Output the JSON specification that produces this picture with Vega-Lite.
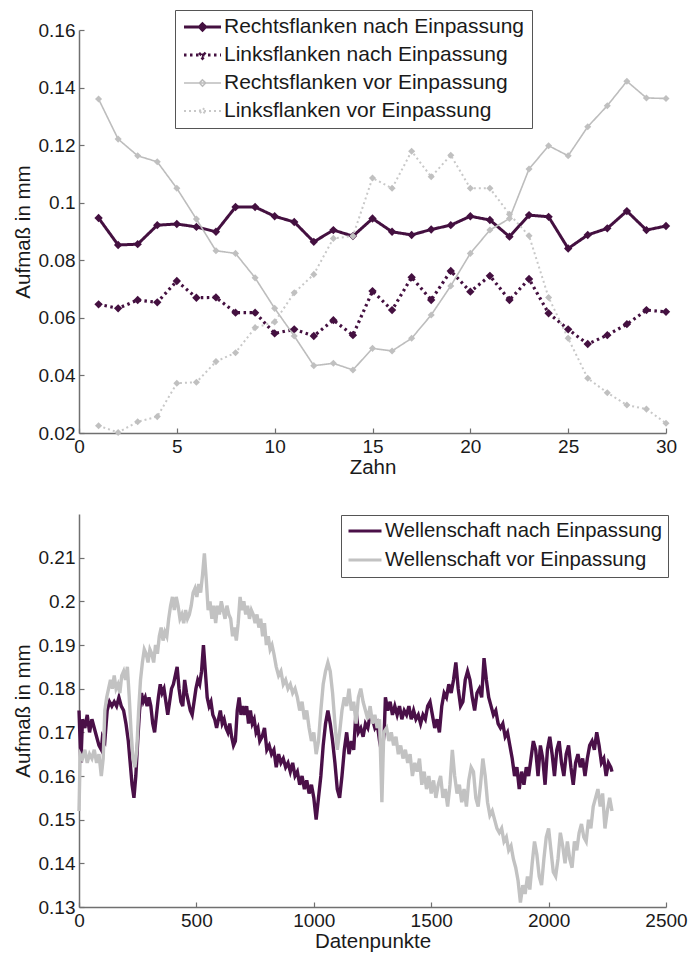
{
"$schema": "https://vega.github.io/schema/vega-lite/v6.json",
"padding": {"left": 13, "top": 9, "right": 5, "bottom": 2},
"spacing": 36,
"resolve": {"scale": {"color": "independent", "strokeDash": "independent", "strokeWidth": "independent", "fill": "independent"}, "legend": {"color": "independent"}},
"config": {
  "font": "Liberation Sans",
  "view": {"stroke": null},
  "axis": {"domainColor": "#707070", "tickColor": "#707070", "domainWidth": 1.5, "tickWidth": 1.2, "labelColor": "#1a1a1a", "titleColor": "#1a1a1a", "labelFontSize": 19, "titleFontSize": 20.5, "titleFontWeight": "normal", "grid": false, "tickSize": -5, "labelPadding": 9},
  "legend": {"orient": "none", "title": null, "strokeColor": "#555555", "fillColor": "white", "labelColor": "#1a1a1a", "labelOffset": 2, "clipHeight": 20, "labelLimit": 500}
},
"datasets": {
  "top": [
    {"zahn":1,"series":"Rechtsflanken nach Einpassung","value":0.0947},{"zahn":2,"series":"Rechtsflanken nach Einpassung","value":0.0853},{"zahn":3,"series":"Rechtsflanken nach Einpassung","value":0.0856},{"zahn":4,"series":"Rechtsflanken nach Einpassung","value":0.0922},{"zahn":5,"series":"Rechtsflanken nach Einpassung","value":0.0926},{"zahn":6,"series":"Rechtsflanken nach Einpassung","value":0.0916},{"zahn":7,"series":"Rechtsflanken nach Einpassung","value":0.0899},{"zahn":8,"series":"Rechtsflanken nach Einpassung","value":0.0985},{"zahn":9,"series":"Rechtsflanken nach Einpassung","value":0.0985},{"zahn":10,"series":"Rechtsflanken nach Einpassung","value":0.0953},{"zahn":11,"series":"Rechtsflanken nach Einpassung","value":0.0933},{"zahn":12,"series":"Rechtsflanken nach Einpassung","value":0.0864},{"zahn":13,"series":"Rechtsflanken nach Einpassung","value":0.0905},{"zahn":14,"series":"Rechtsflanken nach Einpassung","value":0.0884},{"zahn":15,"series":"Rechtsflanken nach Einpassung","value":0.0945},{"zahn":16,"series":"Rechtsflanken nach Einpassung","value":0.0899},{"zahn":17,"series":"Rechtsflanken nach Einpassung","value":0.0888},{"zahn":18,"series":"Rechtsflanken nach Einpassung","value":0.0907},{"zahn":19,"series":"Rechtsflanken nach Einpassung","value":0.0922},{"zahn":20,"series":"Rechtsflanken nach Einpassung","value":0.0953},{"zahn":21,"series":"Rechtsflanken nach Einpassung","value":0.094},{"zahn":22,"series":"Rechtsflanken nach Einpassung","value":0.0882},{"zahn":23,"series":"Rechtsflanken nach Einpassung","value":0.0957},{"zahn":24,"series":"Rechtsflanken nach Einpassung","value":0.0951},{"zahn":25,"series":"Rechtsflanken nach Einpassung","value":0.0841},{"zahn":26,"series":"Rechtsflanken nach Einpassung","value":0.0888},{"zahn":27,"series":"Rechtsflanken nach Einpassung","value":0.0911},{"zahn":28,"series":"Rechtsflanken nach Einpassung","value":0.0971},{"zahn":29,"series":"Rechtsflanken nach Einpassung","value":0.0905},{"zahn":30,"series":"Rechtsflanken nach Einpassung","value":0.0919},
    {"zahn":1,"series":"Linksflanken nach Einpassung","value":0.0647},{"zahn":2,"series":"Linksflanken nach Einpassung","value":0.0633},{"zahn":3,"series":"Linksflanken nach Einpassung","value":0.0662},{"zahn":4,"series":"Linksflanken nach Einpassung","value":0.0654},{"zahn":5,"series":"Linksflanken nach Einpassung","value":0.0728},{"zahn":6,"series":"Linksflanken nach Einpassung","value":0.067},{"zahn":7,"series":"Linksflanken nach Einpassung","value":0.0671},{"zahn":8,"series":"Linksflanken nach Einpassung","value":0.0618},{"zahn":9,"series":"Linksflanken nach Einpassung","value":0.0618},{"zahn":10,"series":"Linksflanken nach Einpassung","value":0.0546},{"zahn":11,"series":"Linksflanken nach Einpassung","value":0.056},{"zahn":12,"series":"Linksflanken nach Einpassung","value":0.0537},{"zahn":13,"series":"Linksflanken nach Einpassung","value":0.0592},{"zahn":14,"series":"Linksflanken nach Einpassung","value":0.054},{"zahn":15,"series":"Linksflanken nach Einpassung","value":0.0693},{"zahn":16,"series":"Linksflanken nach Einpassung","value":0.0627},{"zahn":17,"series":"Linksflanken nach Einpassung","value":0.0741},{"zahn":18,"series":"Linksflanken nach Einpassung","value":0.0662},{"zahn":19,"series":"Linksflanken nach Einpassung","value":0.0763},{"zahn":20,"series":"Linksflanken nach Einpassung","value":0.0691},{"zahn":21,"series":"Linksflanken nach Einpassung","value":0.0746},{"zahn":22,"series":"Linksflanken nach Einpassung","value":0.0662},{"zahn":23,"series":"Linksflanken nach Einpassung","value":0.0735},{"zahn":24,"series":"Linksflanken nach Einpassung","value":0.0616},{"zahn":25,"series":"Linksflanken nach Einpassung","value":0.056},{"zahn":26,"series":"Linksflanken nach Einpassung","value":0.0509},{"zahn":27,"series":"Linksflanken nach Einpassung","value":0.054},{"zahn":28,"series":"Linksflanken nach Einpassung","value":0.0578},{"zahn":29,"series":"Linksflanken nach Einpassung","value":0.0627},{"zahn":30,"series":"Linksflanken nach Einpassung","value":0.0621},
    {"zahn":1,"series":"Rechtsflanken vor Einpassung","value":0.136},{"zahn":2,"series":"Rechtsflanken vor Einpassung","value":0.1221},{"zahn":3,"series":"Rechtsflanken vor Einpassung","value":0.1163},{"zahn":4,"series":"Rechtsflanken vor Einpassung","value":0.1142},{"zahn":5,"series":"Rechtsflanken vor Einpassung","value":0.105},{"zahn":6,"series":"Rechtsflanken vor Einpassung","value":0.0943},{"zahn":7,"series":"Rechtsflanken vor Einpassung","value":0.0833},{"zahn":8,"series":"Rechtsflanken vor Einpassung","value":0.0824},{"zahn":9,"series":"Rechtsflanken vor Einpassung","value":0.0739},{"zahn":10,"series":"Rechtsflanken vor Einpassung","value":0.0633},{"zahn":11,"series":"Rechtsflanken vor Einpassung","value":0.0537},{"zahn":12,"series":"Rechtsflanken vor Einpassung","value":0.0434},{"zahn":13,"series":"Rechtsflanken vor Einpassung","value":0.0442},{"zahn":14,"series":"Rechtsflanken vor Einpassung","value":0.0419},{"zahn":15,"series":"Rechtsflanken vor Einpassung","value":0.0494},{"zahn":16,"series":"Rechtsflanken vor Einpassung","value":0.0485},{"zahn":17,"series":"Rechtsflanken vor Einpassung","value":0.0529},{"zahn":18,"series":"Rechtsflanken vor Einpassung","value":0.061},{"zahn":19,"series":"Rechtsflanken vor Einpassung","value":0.0711},{"zahn":20,"series":"Rechtsflanken vor Einpassung","value":0.0824},{"zahn":21,"series":"Rechtsflanken vor Einpassung","value":0.0905},{"zahn":22,"series":"Rechtsflanken vor Einpassung","value":0.0945},{"zahn":23,"series":"Rechtsflanken vor Einpassung","value":0.1117},{"zahn":24,"series":"Rechtsflanken vor Einpassung","value":0.1198},{"zahn":25,"series":"Rechtsflanken vor Einpassung","value":0.1163},{"zahn":26,"series":"Rechtsflanken vor Einpassung","value":0.1264},{"zahn":27,"series":"Rechtsflanken vor Einpassung","value":0.1337},{"zahn":28,"series":"Rechtsflanken vor Einpassung","value":0.1422},{"zahn":29,"series":"Rechtsflanken vor Einpassung","value":0.1364},{"zahn":30,"series":"Rechtsflanken vor Einpassung","value":0.1362},
    {"zahn":1,"series":"Linksflanken vor Einpassung","value":0.0225},{"zahn":2,"series":"Linksflanken vor Einpassung","value":0.0202},{"zahn":3,"series":"Linksflanken vor Einpassung","value":0.0239},{"zahn":4,"series":"Linksflanken vor Einpassung","value":0.0257},{"zahn":5,"series":"Linksflanken vor Einpassung","value":0.0373},{"zahn":6,"series":"Linksflanken vor Einpassung","value":0.0376},{"zahn":7,"series":"Linksflanken vor Einpassung","value":0.0448},{"zahn":8,"series":"Linksflanken vor Einpassung","value":0.0479},{"zahn":9,"series":"Linksflanken vor Einpassung","value":0.0566},{"zahn":10,"series":"Linksflanken vor Einpassung","value":0.0586},{"zahn":11,"series":"Linksflanken vor Einpassung","value":0.0687},{"zahn":12,"series":"Linksflanken vor Einpassung","value":0.0751},{"zahn":13,"series":"Linksflanken vor Einpassung","value":0.0876},{"zahn":14,"series":"Linksflanken vor Einpassung","value":0.0884},{"zahn":15,"series":"Linksflanken vor Einpassung","value":0.1086},{"zahn":16,"series":"Linksflanken vor Einpassung","value":0.105},{"zahn":17,"series":"Linksflanken vor Einpassung","value":0.1179},{"zahn":18,"series":"Linksflanken vor Einpassung","value":0.109},{"zahn":19,"series":"Linksflanken vor Einpassung","value":0.1165},{"zahn":20,"series":"Linksflanken vor Einpassung","value":0.105},{"zahn":21,"series":"Linksflanken vor Einpassung","value":0.105},{"zahn":22,"series":"Linksflanken vor Einpassung","value":0.096},{"zahn":23,"series":"Linksflanken vor Einpassung","value":0.0885},{"zahn":24,"series":"Linksflanken vor Einpassung","value":0.0671},{"zahn":25,"series":"Linksflanken vor Einpassung","value":0.0529},{"zahn":26,"series":"Linksflanken vor Einpassung","value":0.039},{"zahn":27,"series":"Linksflanken vor Einpassung","value":0.034},{"zahn":28,"series":"Linksflanken vor Einpassung","value":0.0297},{"zahn":29,"series":"Linksflanken vor Einpassung","value":0.0283},{"zahn":30,"series":"Linksflanken vor Einpassung","value":0.0234}
  ],
  "bottom": [
    {"dp":0,"series":"Wellenschaft nach Einpassung","value":0.175},{"dp":8,"series":"Wellenschaft nach Einpassung","value":0.163},{"dp":15,"series":"Wellenschaft nach Einpassung","value":0.173},{"dp":25,"series":"Wellenschaft nach Einpassung","value":0.171},{"dp":35,"series":"Wellenschaft nach Einpassung","value":0.174},{"dp":45,"series":"Wellenschaft nach Einpassung","value":0.17},{"dp":55,"series":"Wellenschaft nach Einpassung","value":0.173},{"dp":65,"series":"Wellenschaft nach Einpassung","value":0.171},{"dp":75,"series":"Wellenschaft nach Einpassung","value":0.169},{"dp":85,"series":"Wellenschaft nach Einpassung","value":0.167},{"dp":95,"series":"Wellenschaft nach Einpassung","value":0.166},{"dp":100,"series":"Wellenschaft nach Einpassung","value":0.169},{"dp":110,"series":"Wellenschaft nach Einpassung","value":0.168},{"dp":120,"series":"Wellenschaft nach Einpassung","value":0.175},{"dp":130,"series":"Wellenschaft nach Einpassung","value":0.177},{"dp":140,"series":"Wellenschaft nach Einpassung","value":0.176},{"dp":150,"series":"Wellenschaft nach Einpassung","value":0.177},{"dp":160,"series":"Wellenschaft nach Einpassung","value":0.176},{"dp":170,"series":"Wellenschaft nach Einpassung","value":0.178},{"dp":180,"series":"Wellenschaft nach Einpassung","value":0.176},{"dp":190,"series":"Wellenschaft nach Einpassung","value":0.175},{"dp":200,"series":"Wellenschaft nach Einpassung","value":0.172},{"dp":210,"series":"Wellenschaft nach Einpassung","value":0.168},{"dp":218,"series":"Wellenschaft nach Einpassung","value":0.163},{"dp":226,"series":"Wellenschaft nach Einpassung","value":0.158},{"dp":234,"series":"Wellenschaft nach Einpassung","value":0.155},{"dp":242,"series":"Wellenschaft nach Einpassung","value":0.16},{"dp":250,"series":"Wellenschaft nach Einpassung","value":0.168},{"dp":258,"series":"Wellenschaft nach Einpassung","value":0.175},{"dp":266,"series":"Wellenschaft nach Einpassung","value":0.179},{"dp":274,"series":"Wellenschaft nach Einpassung","value":0.177},{"dp":282,"series":"Wellenschaft nach Einpassung","value":0.178},{"dp":290,"series":"Wellenschaft nach Einpassung","value":0.176},{"dp":298,"series":"Wellenschaft nach Einpassung","value":0.178},{"dp":306,"series":"Wellenschaft nach Einpassung","value":0.176},{"dp":314,"series":"Wellenschaft nach Einpassung","value":0.172},{"dp":322,"series":"Wellenschaft nach Einpassung","value":0.17},{"dp":330,"series":"Wellenschaft nach Einpassung","value":0.174},{"dp":338,"series":"Wellenschaft nach Einpassung","value":0.178},{"dp":346,"series":"Wellenschaft nach Einpassung","value":0.181},{"dp":354,"series":"Wellenschaft nach Einpassung","value":0.179},{"dp":362,"series":"Wellenschaft nach Einpassung","value":0.18},{"dp":370,"series":"Wellenschaft nach Einpassung","value":0.177},{"dp":378,"series":"Wellenschaft nach Einpassung","value":0.174},{"dp":386,"series":"Wellenschaft nach Einpassung","value":0.177},{"dp":394,"series":"Wellenschaft nach Einpassung","value":0.18},{"dp":402,"series":"Wellenschaft nach Einpassung","value":0.181},{"dp":410,"series":"Wellenschaft nach Einpassung","value":0.183},{"dp":418,"series":"Wellenschaft nach Einpassung","value":0.185},{"dp":426,"series":"Wellenschaft nach Einpassung","value":0.18},{"dp":434,"series":"Wellenschaft nach Einpassung","value":0.177},{"dp":442,"series":"Wellenschaft nach Einpassung","value":0.176},{"dp":450,"series":"Wellenschaft nach Einpassung","value":0.182},{"dp":458,"series":"Wellenschaft nach Einpassung","value":0.179},{"dp":466,"series":"Wellenschaft nach Einpassung","value":0.177},{"dp":474,"series":"Wellenschaft nach Einpassung","value":0.175},{"dp":482,"series":"Wellenschaft nach Einpassung","value":0.174},{"dp":490,"series":"Wellenschaft nach Einpassung","value":0.177},{"dp":498,"series":"Wellenschaft nach Einpassung","value":0.18},{"dp":506,"series":"Wellenschaft nach Einpassung","value":0.182},{"dp":514,"series":"Wellenschaft nach Einpassung","value":0.181},{"dp":522,"series":"Wellenschaft nach Einpassung","value":0.184},{"dp":530,"series":"Wellenschaft nach Einpassung","value":0.19},{"dp":538,"series":"Wellenschaft nach Einpassung","value":0.184},{"dp":546,"series":"Wellenschaft nach Einpassung","value":0.178},{"dp":554,"series":"Wellenschaft nach Einpassung","value":0.176},{"dp":562,"series":"Wellenschaft nach Einpassung","value":0.177},{"dp":570,"series":"Wellenschaft nach Einpassung","value":0.174},{"dp":578,"series":"Wellenschaft nach Einpassung","value":0.173},{"dp":586,"series":"Wellenschaft nach Einpassung","value":0.171},{"dp":594,"series":"Wellenschaft nach Einpassung","value":0.173},{"dp":602,"series":"Wellenschaft nach Einpassung","value":0.175},{"dp":610,"series":"Wellenschaft nach Einpassung","value":0.172},{"dp":618,"series":"Wellenschaft nach Einpassung","value":0.173},{"dp":626,"series":"Wellenschaft nach Einpassung","value":0.171},{"dp":634,"series":"Wellenschaft nach Einpassung","value":0.17},{"dp":642,"series":"Wellenschaft nach Einpassung","value":0.172},{"dp":650,"series":"Wellenschaft nach Einpassung","value":0.169},{"dp":658,"series":"Wellenschaft nach Einpassung","value":0.167},{"dp":666,"series":"Wellenschaft nach Einpassung","value":0.168},{"dp":674,"series":"Wellenschaft nach Einpassung","value":0.175},{"dp":682,"series":"Wellenschaft nach Einpassung","value":0.178},{"dp":690,"series":"Wellenschaft nach Einpassung","value":0.174},{"dp":698,"series":"Wellenschaft nach Einpassung","value":0.176},{"dp":706,"series":"Wellenschaft nach Einpassung","value":0.174},{"dp":714,"series":"Wellenschaft nach Einpassung","value":0.176},{"dp":722,"series":"Wellenschaft nach Einpassung","value":0.172},{"dp":730,"series":"Wellenschaft nach Einpassung","value":0.175},{"dp":738,"series":"Wellenschaft nach Einpassung","value":0.172},{"dp":746,"series":"Wellenschaft nach Einpassung","value":0.173},{"dp":754,"series":"Wellenschaft nach Einpassung","value":0.17},{"dp":762,"series":"Wellenschaft nach Einpassung","value":0.171},{"dp":770,"series":"Wellenschaft nach Einpassung","value":0.168},{"dp":780,"series":"Wellenschaft nach Einpassung","value":0.169},{"dp":790,"series":"Wellenschaft nach Einpassung","value":0.171},{"dp":800,"series":"Wellenschaft nach Einpassung","value":0.166},{"dp":810,"series":"Wellenschaft nach Einpassung","value":0.167},{"dp":820,"series":"Wellenschaft nach Einpassung","value":0.165},{"dp":830,"series":"Wellenschaft nach Einpassung","value":0.166},{"dp":840,"series":"Wellenschaft nach Einpassung","value":0.162},{"dp":850,"series":"Wellenschaft nach Einpassung","value":0.165},{"dp":860,"series":"Wellenschaft nach Einpassung","value":0.163},{"dp":870,"series":"Wellenschaft nach Einpassung","value":0.164},{"dp":880,"series":"Wellenschaft nach Einpassung","value":0.162},{"dp":890,"series":"Wellenschaft nach Einpassung","value":0.163},{"dp":900,"series":"Wellenschaft nach Einpassung","value":0.161},{"dp":910,"series":"Wellenschaft nach Einpassung","value":0.163},{"dp":920,"series":"Wellenschaft nach Einpassung","value":0.16},{"dp":930,"series":"Wellenschaft nach Einpassung","value":0.161},{"dp":940,"series":"Wellenschaft nach Einpassung","value":0.158},{"dp":950,"series":"Wellenschaft nach Einpassung","value":0.16},{"dp":960,"series":"Wellenschaft nach Einpassung","value":0.157},{"dp":970,"series":"Wellenschaft nach Einpassung","value":0.159},{"dp":980,"series":"Wellenschaft nach Einpassung","value":0.156},{"dp":990,"series":"Wellenschaft nach Einpassung","value":0.158},{"dp":1000,"series":"Wellenschaft nach Einpassung","value":0.155},{"dp":1010,"series":"Wellenschaft nach Einpassung","value":0.15},{"dp":1020,"series":"Wellenschaft nach Einpassung","value":0.155},{"dp":1030,"series":"Wellenschaft nach Einpassung","value":0.16},{"dp":1040,"series":"Wellenschaft nach Einpassung","value":0.167},{"dp":1050,"series":"Wellenschaft nach Einpassung","value":0.172},{"dp":1060,"series":"Wellenschaft nach Einpassung","value":0.175},{"dp":1070,"series":"Wellenschaft nach Einpassung","value":0.172},{"dp":1080,"series":"Wellenschaft nach Einpassung","value":0.168},{"dp":1090,"series":"Wellenschaft nach Einpassung","value":0.163},{"dp":1100,"series":"Wellenschaft nach Einpassung","value":0.157},{"dp":1110,"series":"Wellenschaft nach Einpassung","value":0.155},{"dp":1120,"series":"Wellenschaft nach Einpassung","value":0.16},{"dp":1130,"series":"Wellenschaft nach Einpassung","value":0.166},{"dp":1140,"series":"Wellenschaft nach Einpassung","value":0.17},{"dp":1150,"series":"Wellenschaft nach Einpassung","value":0.165},{"dp":1160,"series":"Wellenschaft nach Einpassung","value":0.168},{"dp":1170,"series":"Wellenschaft nach Einpassung","value":0.166},{"dp":1180,"series":"Wellenschaft nach Einpassung","value":0.175},{"dp":1190,"series":"Wellenschaft nach Einpassung","value":0.17},{"dp":1200,"series":"Wellenschaft nach Einpassung","value":0.171},{"dp":1210,"series":"Wellenschaft nach Einpassung","value":0.169},{"dp":1220,"series":"Wellenschaft nach Einpassung","value":0.172},{"dp":1230,"series":"Wellenschaft nach Einpassung","value":0.171},{"dp":1240,"series":"Wellenschaft nach Einpassung","value":0.174},{"dp":1250,"series":"Wellenschaft nach Einpassung","value":0.173},{"dp":1260,"series":"Wellenschaft nach Einpassung","value":0.171},{"dp":1270,"series":"Wellenschaft nach Einpassung","value":0.172},{"dp":1280,"series":"Wellenschaft nach Einpassung","value":0.168},{"dp":1290,"series":"Wellenschaft nach Einpassung","value":0.165},{"dp":1300,"series":"Wellenschaft nach Einpassung","value":0.17},{"dp":1305,"series":"Wellenschaft nach Einpassung","value":0.178},{"dp":1315,"series":"Wellenschaft nach Einpassung","value":0.175},{"dp":1325,"series":"Wellenschaft nach Einpassung","value":0.177},{"dp":1335,"series":"Wellenschaft nach Einpassung","value":0.174},{"dp":1345,"series":"Wellenschaft nach Einpassung","value":0.176},{"dp":1355,"series":"Wellenschaft nach Einpassung","value":0.174},{"dp":1365,"series":"Wellenschaft nach Einpassung","value":0.176},{"dp":1375,"series":"Wellenschaft nach Einpassung","value":0.173},{"dp":1385,"series":"Wellenschaft nach Einpassung","value":0.175},{"dp":1395,"series":"Wellenschaft nach Einpassung","value":0.174},{"dp":1405,"series":"Wellenschaft nach Einpassung","value":0.176},{"dp":1415,"series":"Wellenschaft nach Einpassung","value":0.173},{"dp":1425,"series":"Wellenschaft nach Einpassung","value":0.175},{"dp":1435,"series":"Wellenschaft nach Einpassung","value":0.173},{"dp":1445,"series":"Wellenschaft nach Einpassung","value":0.174},{"dp":1455,"series":"Wellenschaft nach Einpassung","value":0.172},{"dp":1465,"series":"Wellenschaft nach Einpassung","value":0.174},{"dp":1475,"series":"Wellenschaft nach Einpassung","value":0.173},{"dp":1485,"series":"Wellenschaft nach Einpassung","value":0.176},{"dp":1495,"series":"Wellenschaft nach Einpassung","value":0.177},{"dp":1505,"series":"Wellenschaft nach Einpassung","value":0.174},{"dp":1515,"series":"Wellenschaft nach Einpassung","value":0.171},{"dp":1525,"series":"Wellenschaft nach Einpassung","value":0.173},{"dp":1535,"series":"Wellenschaft nach Einpassung","value":0.17},{"dp":1545,"series":"Wellenschaft nach Einpassung","value":0.176},{"dp":1555,"series":"Wellenschaft nach Einpassung","value":0.179},{"dp":1565,"series":"Wellenschaft nach Einpassung","value":0.178},{"dp":1575,"series":"Wellenschaft nach Einpassung","value":0.181},{"dp":1585,"series":"Wellenschaft nach Einpassung","value":0.179},{"dp":1595,"series":"Wellenschaft nach Einpassung","value":0.182},{"dp":1605,"series":"Wellenschaft nach Einpassung","value":0.186},{"dp":1615,"series":"Wellenschaft nach Einpassung","value":0.18},{"dp":1625,"series":"Wellenschaft nach Einpassung","value":0.176},{"dp":1635,"series":"Wellenschaft nach Einpassung","value":0.177},{"dp":1645,"series":"Wellenschaft nach Einpassung","value":0.182},{"dp":1655,"series":"Wellenschaft nach Einpassung","value":0.184},{"dp":1665,"series":"Wellenschaft nach Einpassung","value":0.182},{"dp":1675,"series":"Wellenschaft nach Einpassung","value":0.178},{"dp":1685,"series":"Wellenschaft nach Einpassung","value":0.175},{"dp":1695,"series":"Wellenschaft nach Einpassung","value":0.179},{"dp":1705,"series":"Wellenschaft nach Einpassung","value":0.18},{"dp":1715,"series":"Wellenschaft nach Einpassung","value":0.178},{"dp":1725,"series":"Wellenschaft nach Einpassung","value":0.187},{"dp":1735,"series":"Wellenschaft nach Einpassung","value":0.182},{"dp":1745,"series":"Wellenschaft nach Einpassung","value":0.178},{"dp":1755,"series":"Wellenschaft nach Einpassung","value":0.176},{"dp":1765,"series":"Wellenschaft nach Einpassung","value":0.174},{"dp":1775,"series":"Wellenschaft nach Einpassung","value":0.175},{"dp":1785,"series":"Wellenschaft nach Einpassung","value":0.172},{"dp":1795,"series":"Wellenschaft nach Einpassung","value":0.171},{"dp":1805,"series":"Wellenschaft nach Einpassung","value":0.172},{"dp":1815,"series":"Wellenschaft nach Einpassung","value":0.169},{"dp":1825,"series":"Wellenschaft nach Einpassung","value":0.17},{"dp":1835,"series":"Wellenschaft nach Einpassung","value":0.167},{"dp":1845,"series":"Wellenschaft nach Einpassung","value":0.164},{"dp":1855,"series":"Wellenschaft nach Einpassung","value":0.16},{"dp":1865,"series":"Wellenschaft nach Einpassung","value":0.162},{"dp":1875,"series":"Wellenschaft nach Einpassung","value":0.157},{"dp":1885,"series":"Wellenschaft nach Einpassung","value":0.161},{"dp":1895,"series":"Wellenschaft nach Einpassung","value":0.158},{"dp":1905,"series":"Wellenschaft nach Einpassung","value":0.162},{"dp":1915,"series":"Wellenschaft nach Einpassung","value":0.16},{"dp":1925,"series":"Wellenschaft nach Einpassung","value":0.164},{"dp":1935,"series":"Wellenschaft nach Einpassung","value":0.168},{"dp":1945,"series":"Wellenschaft nach Einpassung","value":0.166},{"dp":1955,"series":"Wellenschaft nach Einpassung","value":0.16},{"dp":1965,"series":"Wellenschaft nach Einpassung","value":0.167},{"dp":1975,"series":"Wellenschaft nach Einpassung","value":0.164},{"dp":1985,"series":"Wellenschaft nach Einpassung","value":0.158},{"dp":1995,"series":"Wellenschaft nach Einpassung","value":0.166},{"dp":2005,"series":"Wellenschaft nach Einpassung","value":0.169},{"dp":2015,"series":"Wellenschaft nach Einpassung","value":0.165},{"dp":2025,"series":"Wellenschaft nach Einpassung","value":0.16},{"dp":2035,"series":"Wellenschaft nach Einpassung","value":0.166},{"dp":2045,"series":"Wellenschaft nach Einpassung","value":0.168},{"dp":2055,"series":"Wellenschaft nach Einpassung","value":0.163},{"dp":2065,"series":"Wellenschaft nach Einpassung","value":0.16},{"dp":2075,"series":"Wellenschaft nach Einpassung","value":0.165},{"dp":2085,"series":"Wellenschaft nach Einpassung","value":0.167},{"dp":2095,"series":"Wellenschaft nach Einpassung","value":0.162},{"dp":2105,"series":"Wellenschaft nach Einpassung","value":0.158},{"dp":2115,"series":"Wellenschaft nach Einpassung","value":0.163},{"dp":2125,"series":"Wellenschaft nach Einpassung","value":0.165},{"dp":2135,"series":"Wellenschaft nach Einpassung","value":0.162},{"dp":2145,"series":"Wellenschaft nach Einpassung","value":0.164},{"dp":2155,"series":"Wellenschaft nach Einpassung","value":0.16},{"dp":2165,"series":"Wellenschaft nach Einpassung","value":0.164},{"dp":2175,"series":"Wellenschaft nach Einpassung","value":0.167},{"dp":2185,"series":"Wellenschaft nach Einpassung","value":0.168},{"dp":2195,"series":"Wellenschaft nach Einpassung","value":0.166},{"dp":2205,"series":"Wellenschaft nach Einpassung","value":0.17},{"dp":2215,"series":"Wellenschaft nach Einpassung","value":0.167},{"dp":2225,"series":"Wellenschaft nach Einpassung","value":0.163},{"dp":2235,"series":"Wellenschaft nach Einpassung","value":0.164},{"dp":2245,"series":"Wellenschaft nach Einpassung","value":0.16},{"dp":2255,"series":"Wellenschaft nach Einpassung","value":0.163},{"dp":2265,"series":"Wellenschaft nach Einpassung","value":0.162},{"dp":2270,"series":"Wellenschaft nach Einpassung","value":0.161},
    {"dp":0,"series":"Wellenschaft vor Einpassung","value":0.152},{"dp":5,"series":"Wellenschaft vor Einpassung","value":0.165},{"dp":15,"series":"Wellenschaft vor Einpassung","value":0.164},{"dp":25,"series":"Wellenschaft vor Einpassung","value":0.166},{"dp":35,"series":"Wellenschaft vor Einpassung","value":0.163},{"dp":45,"series":"Wellenschaft vor Einpassung","value":0.165},{"dp":55,"series":"Wellenschaft vor Einpassung","value":0.164},{"dp":65,"series":"Wellenschaft vor Einpassung","value":0.166},{"dp":75,"series":"Wellenschaft vor Einpassung","value":0.163},{"dp":85,"series":"Wellenschaft vor Einpassung","value":0.165},{"dp":95,"series":"Wellenschaft vor Einpassung","value":0.16},{"dp":103,"series":"Wellenschaft vor Einpassung","value":0.164},{"dp":110,"series":"Wellenschaft vor Einpassung","value":0.175},{"dp":118,"series":"Wellenschaft vor Einpassung","value":0.178},{"dp":126,"series":"Wellenschaft vor Einpassung","value":0.18},{"dp":134,"series":"Wellenschaft vor Einpassung","value":0.182},{"dp":142,"series":"Wellenschaft vor Einpassung","value":0.18},{"dp":150,"series":"Wellenschaft vor Einpassung","value":0.183},{"dp":158,"series":"Wellenschaft vor Einpassung","value":0.18},{"dp":166,"series":"Wellenschaft vor Einpassung","value":0.181},{"dp":174,"series":"Wellenschaft vor Einpassung","value":0.179},{"dp":182,"series":"Wellenschaft vor Einpassung","value":0.183},{"dp":190,"series":"Wellenschaft vor Einpassung","value":0.184},{"dp":198,"series":"Wellenschaft vor Einpassung","value":0.182},{"dp":206,"series":"Wellenschaft vor Einpassung","value":0.185},{"dp":214,"series":"Wellenschaft vor Einpassung","value":0.178},{"dp":222,"series":"Wellenschaft vor Einpassung","value":0.17},{"dp":230,"series":"Wellenschaft vor Einpassung","value":0.164},{"dp":238,"series":"Wellenschaft vor Einpassung","value":0.162},{"dp":246,"series":"Wellenschaft vor Einpassung","value":0.166},{"dp":254,"series":"Wellenschaft vor Einpassung","value":0.175},{"dp":262,"series":"Wellenschaft vor Einpassung","value":0.182},{"dp":270,"series":"Wellenschaft vor Einpassung","value":0.186},{"dp":278,"series":"Wellenschaft vor Einpassung","value":0.189},{"dp":286,"series":"Wellenschaft vor Einpassung","value":0.188},{"dp":294,"series":"Wellenschaft vor Einpassung","value":0.186},{"dp":302,"series":"Wellenschaft vor Einpassung","value":0.189},{"dp":310,"series":"Wellenschaft vor Einpassung","value":0.188},{"dp":318,"series":"Wellenschaft vor Einpassung","value":0.186},{"dp":326,"series":"Wellenschaft vor Einpassung","value":0.19},{"dp":334,"series":"Wellenschaft vor Einpassung","value":0.188},{"dp":342,"series":"Wellenschaft vor Einpassung","value":0.192},{"dp":350,"series":"Wellenschaft vor Einpassung","value":0.194},{"dp":358,"series":"Wellenschaft vor Einpassung","value":0.191},{"dp":366,"series":"Wellenschaft vor Einpassung","value":0.193},{"dp":374,"series":"Wellenschaft vor Einpassung","value":0.192},{"dp":382,"series":"Wellenschaft vor Einpassung","value":0.196},{"dp":390,"series":"Wellenschaft vor Einpassung","value":0.199},{"dp":398,"series":"Wellenschaft vor Einpassung","value":0.201},{"dp":406,"series":"Wellenschaft vor Einpassung","value":0.198},{"dp":414,"series":"Wellenschaft vor Einpassung","value":0.201},{"dp":422,"series":"Wellenschaft vor Einpassung","value":0.199},{"dp":430,"series":"Wellenschaft vor Einpassung","value":0.196},{"dp":438,"series":"Wellenschaft vor Einpassung","value":0.197},{"dp":446,"series":"Wellenschaft vor Einpassung","value":0.195},{"dp":454,"series":"Wellenschaft vor Einpassung","value":0.198},{"dp":462,"series":"Wellenschaft vor Einpassung","value":0.196},{"dp":470,"series":"Wellenschaft vor Einpassung","value":0.197},{"dp":478,"series":"Wellenschaft vor Einpassung","value":0.199},{"dp":486,"series":"Wellenschaft vor Einpassung","value":0.202},{"dp":494,"series":"Wellenschaft vor Einpassung","value":0.203},{"dp":502,"series":"Wellenschaft vor Einpassung","value":0.201},{"dp":510,"series":"Wellenschaft vor Einpassung","value":0.204},{"dp":518,"series":"Wellenschaft vor Einpassung","value":0.202},{"dp":526,"series":"Wellenschaft vor Einpassung","value":0.206},{"dp":534,"series":"Wellenschaft vor Einpassung","value":0.211},{"dp":542,"series":"Wellenschaft vor Einpassung","value":0.205},{"dp":550,"series":"Wellenschaft vor Einpassung","value":0.198},{"dp":558,"series":"Wellenschaft vor Einpassung","value":0.2},{"dp":566,"series":"Wellenschaft vor Einpassung","value":0.196},{"dp":574,"series":"Wellenschaft vor Einpassung","value":0.199},{"dp":582,"series":"Wellenschaft vor Einpassung","value":0.195},{"dp":590,"series":"Wellenschaft vor Einpassung","value":0.199},{"dp":598,"series":"Wellenschaft vor Einpassung","value":0.197},{"dp":606,"series":"Wellenschaft vor Einpassung","value":0.2},{"dp":614,"series":"Wellenschaft vor Einpassung","value":0.198},{"dp":622,"series":"Wellenschaft vor Einpassung","value":0.196},{"dp":630,"series":"Wellenschaft vor Einpassung","value":0.199},{"dp":638,"series":"Wellenschaft vor Einpassung","value":0.197},{"dp":646,"series":"Wellenschaft vor Einpassung","value":0.196},{"dp":654,"series":"Wellenschaft vor Einpassung","value":0.192},{"dp":662,"series":"Wellenschaft vor Einpassung","value":0.194},{"dp":670,"series":"Wellenschaft vor Einpassung","value":0.191},{"dp":678,"series":"Wellenschaft vor Einpassung","value":0.195},{"dp":686,"series":"Wellenschaft vor Einpassung","value":0.201},{"dp":694,"series":"Wellenschaft vor Einpassung","value":0.198},{"dp":702,"series":"Wellenschaft vor Einpassung","value":0.2},{"dp":710,"series":"Wellenschaft vor Einpassung","value":0.197},{"dp":718,"series":"Wellenschaft vor Einpassung","value":0.199},{"dp":726,"series":"Wellenschaft vor Einpassung","value":0.196},{"dp":734,"series":"Wellenschaft vor Einpassung","value":0.198},{"dp":742,"series":"Wellenschaft vor Einpassung","value":0.197},{"dp":750,"series":"Wellenschaft vor Einpassung","value":0.195},{"dp":758,"series":"Wellenschaft vor Einpassung","value":0.197},{"dp":766,"series":"Wellenschaft vor Einpassung","value":0.194},{"dp":774,"series":"Wellenschaft vor Einpassung","value":0.196},{"dp":782,"series":"Wellenschaft vor Einpassung","value":0.192},{"dp":790,"series":"Wellenschaft vor Einpassung","value":0.195},{"dp":798,"series":"Wellenschaft vor Einpassung","value":0.19},{"dp":806,"series":"Wellenschaft vor Einpassung","value":0.192},{"dp":814,"series":"Wellenschaft vor Einpassung","value":0.189},{"dp":822,"series":"Wellenschaft vor Einpassung","value":0.19},{"dp":830,"series":"Wellenschaft vor Einpassung","value":0.188},{"dp":840,"series":"Wellenschaft vor Einpassung","value":0.185},{"dp":850,"series":"Wellenschaft vor Einpassung","value":0.183},{"dp":860,"series":"Wellenschaft vor Einpassung","value":0.184},{"dp":870,"series":"Wellenschaft vor Einpassung","value":0.181},{"dp":880,"series":"Wellenschaft vor Einpassung","value":0.182},{"dp":890,"series":"Wellenschaft vor Einpassung","value":0.18},{"dp":900,"series":"Wellenschaft vor Einpassung","value":0.181},{"dp":910,"series":"Wellenschaft vor Einpassung","value":0.179},{"dp":920,"series":"Wellenschaft vor Einpassung","value":0.18},{"dp":930,"series":"Wellenschaft vor Einpassung","value":0.178},{"dp":940,"series":"Wellenschaft vor Einpassung","value":0.175},{"dp":950,"series":"Wellenschaft vor Einpassung","value":0.177},{"dp":960,"series":"Wellenschaft vor Einpassung","value":0.173},{"dp":970,"series":"Wellenschaft vor Einpassung","value":0.175},{"dp":980,"series":"Wellenschaft vor Einpassung","value":0.171},{"dp":990,"series":"Wellenschaft vor Einpassung","value":0.168},{"dp":1000,"series":"Wellenschaft vor Einpassung","value":0.17},{"dp":1010,"series":"Wellenschaft vor Einpassung","value":0.165},{"dp":1020,"series":"Wellenschaft vor Einpassung","value":0.168},{"dp":1030,"series":"Wellenschaft vor Einpassung","value":0.175},{"dp":1040,"series":"Wellenschaft vor Einpassung","value":0.181},{"dp":1050,"series":"Wellenschaft vor Einpassung","value":0.184},{"dp":1060,"series":"Wellenschaft vor Einpassung","value":0.186},{"dp":1070,"series":"Wellenschaft vor Einpassung","value":0.184},{"dp":1080,"series":"Wellenschaft vor Einpassung","value":0.179},{"dp":1090,"series":"Wellenschaft vor Einpassung","value":0.172},{"dp":1100,"series":"Wellenschaft vor Einpassung","value":0.166},{"dp":1110,"series":"Wellenschaft vor Einpassung","value":0.17},{"dp":1120,"series":"Wellenschaft vor Einpassung","value":0.175},{"dp":1130,"series":"Wellenschaft vor Einpassung","value":0.178},{"dp":1140,"series":"Wellenschaft vor Einpassung","value":0.176},{"dp":1150,"series":"Wellenschaft vor Einpassung","value":0.18},{"dp":1160,"series":"Wellenschaft vor Einpassung","value":0.175},{"dp":1170,"series":"Wellenschaft vor Einpassung","value":0.177},{"dp":1180,"series":"Wellenschaft vor Einpassung","value":0.172},{"dp":1190,"series":"Wellenschaft vor Einpassung","value":0.178},{"dp":1200,"series":"Wellenschaft vor Einpassung","value":0.18},{"dp":1210,"series":"Wellenschaft vor Einpassung","value":0.177},{"dp":1220,"series":"Wellenschaft vor Einpassung","value":0.175},{"dp":1230,"series":"Wellenschaft vor Einpassung","value":0.173},{"dp":1240,"series":"Wellenschaft vor Einpassung","value":0.176},{"dp":1250,"series":"Wellenschaft vor Einpassung","value":0.172},{"dp":1260,"series":"Wellenschaft vor Einpassung","value":0.174},{"dp":1270,"series":"Wellenschaft vor Einpassung","value":0.171},{"dp":1280,"series":"Wellenschaft vor Einpassung","value":0.173},{"dp":1290,"series":"Wellenschaft vor Einpassung","value":0.154},{"dp":1298,"series":"Wellenschaft vor Einpassung","value":0.17},{"dp":1310,"series":"Wellenschaft vor Einpassung","value":0.171},{"dp":1320,"series":"Wellenschaft vor Einpassung","value":0.168},{"dp":1330,"series":"Wellenschaft vor Einpassung","value":0.17},{"dp":1340,"series":"Wellenschaft vor Einpassung","value":0.167},{"dp":1350,"series":"Wellenschaft vor Einpassung","value":0.169},{"dp":1360,"series":"Wellenschaft vor Einpassung","value":0.165},{"dp":1370,"series":"Wellenschaft vor Einpassung","value":0.167},{"dp":1380,"series":"Wellenschaft vor Einpassung","value":0.164},{"dp":1390,"series":"Wellenschaft vor Einpassung","value":0.166},{"dp":1400,"series":"Wellenschaft vor Einpassung","value":0.163},{"dp":1410,"series":"Wellenschaft vor Einpassung","value":0.165},{"dp":1420,"series":"Wellenschaft vor Einpassung","value":0.16},{"dp":1430,"series":"Wellenschaft vor Einpassung","value":0.163},{"dp":1440,"series":"Wellenschaft vor Einpassung","value":0.161},{"dp":1450,"series":"Wellenschaft vor Einpassung","value":0.164},{"dp":1460,"series":"Wellenschaft vor Einpassung","value":0.158},{"dp":1470,"series":"Wellenschaft vor Einpassung","value":0.161},{"dp":1480,"series":"Wellenschaft vor Einpassung","value":0.157},{"dp":1490,"series":"Wellenschaft vor Einpassung","value":0.16},{"dp":1500,"series":"Wellenschaft vor Einpassung","value":0.156},{"dp":1510,"series":"Wellenschaft vor Einpassung","value":0.159},{"dp":1520,"series":"Wellenschaft vor Einpassung","value":0.155},{"dp":1530,"series":"Wellenschaft vor Einpassung","value":0.158},{"dp":1540,"series":"Wellenschaft vor Einpassung","value":0.16},{"dp":1550,"series":"Wellenschaft vor Einpassung","value":0.155},{"dp":1560,"series":"Wellenschaft vor Einpassung","value":0.157},{"dp":1570,"series":"Wellenschaft vor Einpassung","value":0.153},{"dp":1580,"series":"Wellenschaft vor Einpassung","value":0.158},{"dp":1590,"series":"Wellenschaft vor Einpassung","value":0.166},{"dp":1600,"series":"Wellenschaft vor Einpassung","value":0.16},{"dp":1610,"series":"Wellenschaft vor Einpassung","value":0.156},{"dp":1620,"series":"Wellenschaft vor Einpassung","value":0.158},{"dp":1630,"series":"Wellenschaft vor Einpassung","value":0.154},{"dp":1640,"series":"Wellenschaft vor Einpassung","value":0.157},{"dp":1650,"series":"Wellenschaft vor Einpassung","value":0.153},{"dp":1660,"series":"Wellenschaft vor Einpassung","value":0.159},{"dp":1670,"series":"Wellenschaft vor Einpassung","value":0.162},{"dp":1680,"series":"Wellenschaft vor Einpassung","value":0.161},{"dp":1690,"series":"Wellenschaft vor Einpassung","value":0.155},{"dp":1700,"series":"Wellenschaft vor Einpassung","value":0.153},{"dp":1710,"series":"Wellenschaft vor Einpassung","value":0.158},{"dp":1720,"series":"Wellenschaft vor Einpassung","value":0.164},{"dp":1730,"series":"Wellenschaft vor Einpassung","value":0.16},{"dp":1740,"series":"Wellenschaft vor Einpassung","value":0.154},{"dp":1750,"series":"Wellenschaft vor Einpassung","value":0.151},{"dp":1760,"series":"Wellenschaft vor Einpassung","value":0.152},{"dp":1770,"series":"Wellenschaft vor Einpassung","value":0.15},{"dp":1780,"series":"Wellenschaft vor Einpassung","value":0.148},{"dp":1790,"series":"Wellenschaft vor Einpassung","value":0.147},{"dp":1800,"series":"Wellenschaft vor Einpassung","value":0.148},{"dp":1810,"series":"Wellenschaft vor Einpassung","value":0.145},{"dp":1820,"series":"Wellenschaft vor Einpassung","value":0.146},{"dp":1830,"series":"Wellenschaft vor Einpassung","value":0.143},{"dp":1840,"series":"Wellenschaft vor Einpassung","value":0.144},{"dp":1850,"series":"Wellenschaft vor Einpassung","value":0.141},{"dp":1860,"series":"Wellenschaft vor Einpassung","value":0.139},{"dp":1870,"series":"Wellenschaft vor Einpassung","value":0.136},{"dp":1880,"series":"Wellenschaft vor Einpassung","value":0.131},{"dp":1890,"series":"Wellenschaft vor Einpassung","value":0.135},{"dp":1900,"series":"Wellenschaft vor Einpassung","value":0.133},{"dp":1910,"series":"Wellenschaft vor Einpassung","value":0.137},{"dp":1920,"series":"Wellenschaft vor Einpassung","value":0.134},{"dp":1930,"series":"Wellenschaft vor Einpassung","value":0.14},{"dp":1940,"series":"Wellenschaft vor Einpassung","value":0.145},{"dp":1950,"series":"Wellenschaft vor Einpassung","value":0.142},{"dp":1960,"series":"Wellenschaft vor Einpassung","value":0.137},{"dp":1970,"series":"Wellenschaft vor Einpassung","value":0.135},{"dp":1980,"series":"Wellenschaft vor Einpassung","value":0.141},{"dp":1990,"series":"Wellenschaft vor Einpassung","value":0.146},{"dp":2000,"series":"Wellenschaft vor Einpassung","value":0.148},{"dp":2010,"series":"Wellenschaft vor Einpassung","value":0.143},{"dp":2020,"series":"Wellenschaft vor Einpassung","value":0.138},{"dp":2030,"series":"Wellenschaft vor Einpassung","value":0.137},{"dp":2040,"series":"Wellenschaft vor Einpassung","value":0.141},{"dp":2050,"series":"Wellenschaft vor Einpassung","value":0.147},{"dp":2060,"series":"Wellenschaft vor Einpassung","value":0.144},{"dp":2070,"series":"Wellenschaft vor Einpassung","value":0.14},{"dp":2080,"series":"Wellenschaft vor Einpassung","value":0.145},{"dp":2090,"series":"Wellenschaft vor Einpassung","value":0.141},{"dp":2100,"series":"Wellenschaft vor Einpassung","value":0.139},{"dp":2110,"series":"Wellenschaft vor Einpassung","value":0.145},{"dp":2120,"series":"Wellenschaft vor Einpassung","value":0.143},{"dp":2130,"series":"Wellenschaft vor Einpassung","value":0.147},{"dp":2140,"series":"Wellenschaft vor Einpassung","value":0.149},{"dp":2150,"series":"Wellenschaft vor Einpassung","value":0.146},{"dp":2160,"series":"Wellenschaft vor Einpassung","value":0.145},{"dp":2170,"series":"Wellenschaft vor Einpassung","value":0.15},{"dp":2180,"series":"Wellenschaft vor Einpassung","value":0.148},{"dp":2190,"series":"Wellenschaft vor Einpassung","value":0.153},{"dp":2200,"series":"Wellenschaft vor Einpassung","value":0.155},{"dp":2210,"series":"Wellenschaft vor Einpassung","value":0.157},{"dp":2220,"series":"Wellenschaft vor Einpassung","value":0.153},{"dp":2230,"series":"Wellenschaft vor Einpassung","value":0.156},{"dp":2240,"series":"Wellenschaft vor Einpassung","value":0.148},{"dp":2250,"series":"Wellenschaft vor Einpassung","value":0.152},{"dp":2260,"series":"Wellenschaft vor Einpassung","value":0.155},{"dp":2270,"series":"Wellenschaft vor Einpassung","value":0.152}
  ]
},
"vconcat": [
  {
    "width": 587, "height": 403,
    "data": {"name": "top"},
    "encoding": {
      "x": {"field": "zahn", "type": "quantitative", "scale": {"domain": [0, 30], "nice": false}, "axis": {"title": "Zahn", "values": [0,5,10,15,20,25,30], "titlePadding": 1, "labelFlush": false}},
      "y": {"field": "value", "type": "quantitative", "scale": {"domain": [0.02, 0.16], "nice": false, "zero": false}, "axis": {"title": "Aufmaß in mm", "values": [0.02,0.04,0.06,0.08,0.1,0.12,0.14,0.16], "format": "~g", "titlePadding": 5, "labelFlush": false}}
    },
    "layer": [
      {
        "mark": {"type": "line"},
        "encoding": {
          "color": {"field": "series", "type": "nominal", "scale": {"domain": ["Rechtsflanken nach Einpassung","Linksflanken nach Einpassung","Rechtsflanken vor Einpassung","Linksflanken vor Einpassung"], "range": ["#441040","#441040","#bdbdbd","#c8c8c8"]}, "legend": {"orient": "none", "legendX": 96, "legendY": -20, "padding": 7, "rowPadding": 7, "labelFontSize": 21, "labelOffset": 1, "symbolType": "M-1,0L1,0M-0.17,0L0,-0.17L0.17,0L0,0.17Z", "symbolSize": 1369}},
          "strokeDash": {"field": "series", "type": "nominal", "scale": {"domain": ["Rechtsflanken nach Einpassung","Linksflanken nach Einpassung","Rechtsflanken vor Einpassung","Linksflanken vor Einpassung"], "range": [[1,0],[2.5,3.5],[1,0],[2,3]]}},
          "strokeWidth": {"field": "series", "type": "ordinal", "scale": {"type": "ordinal", "domain": ["Rechtsflanken nach Einpassung","Linksflanken nach Einpassung","Rechtsflanken vor Einpassung","Linksflanken vor Einpassung"], "range": [3,3.2,1.6,2]}}
        }
      },
      {
        "transform": [{"filter": {"field": "series", "oneOf": ["Rechtsflanken nach Einpassung","Linksflanken nach Einpassung"]}}],
        "mark": {"type": "point", "shape": "diamond", "filled": true, "opacity": 1, "size": 70, "color": "#441040"}
      },
      {
        "transform": [{"filter": {"field": "series", "oneOf": ["Rechtsflanken vor Einpassung","Linksflanken vor Einpassung"]}}],
        "mark": {"type": "point", "shape": "diamond", "filled": true, "opacity": 1, "size": 50, "color": "#c0c0c0"}
      }
    ]
  },
  {
    "width": 587, "height": 393,
    "data": {"name": "bottom"},
    "mark": {"type": "line", "strokeWidth": 3.4, "strokeJoin": "miter"},
    "encoding": {
      "x": {"field": "dp", "type": "quantitative", "scale": {"domain": [0, 2500], "nice": false}, "axis": {"title": "Datenpunkte", "values": [0,500,1000,1500,2000,2500], "format": "d", "titlePadding": 1, "labelFlush": false}},
      "y": {"field": "value", "type": "quantitative", "scale": {"domain": [0.13, 0.22], "nice": false, "zero": false}, "axis": {"title": "Aufmaß in mm", "values": [0.13,0.14,0.15,0.16,0.17,0.18,0.19,0.2,0.21], "format": "~g", "titlePadding": 5, "labelFlush": false}},
      "color": {"field": "series", "type": "nominal", "scale": {"domain": ["Wellenschaft nach Einpassung","Wellenschaft vor Einpassung"], "range": ["#4a1048","#c2c2c2"]}, "legend": {"orient": "none", "legendX": 262, "legendY": 1, "padding": 6, "rowPadding": 8, "labelFontSize": 20.3, "symbolType": "stroke", "symbolSize": 1089, "symbolStrokeWidth": 3}}
    }
  }
]
}
